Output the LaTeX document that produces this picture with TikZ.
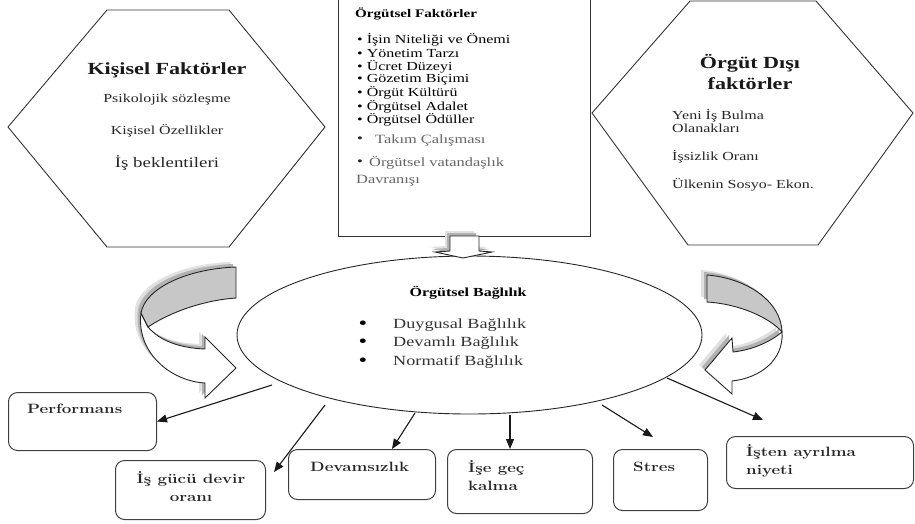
\documentclass[tikz,border=0pt]{standalone}
\usepackage{fontspec}
\setmainfont{Liberation Serif}[FakeStretch=1.3]
\newfontfamily\boxfont{Latin Modern Roman}[FakeStretch=1.25]
\usetikzlibrary{arrows.meta,calc,shapes.geometric}
\newcommand\LArrowGray[1]{\path[#1] (236,267) .. controls (185,269) and (145,289) .. (141,313) -- (148,327) .. controls (170,312) and (205,300) .. (236,298) -- cycle;}
\newcommand\LArrowWhite[1]{\path[#1] (141,313) .. controls (136,352) and (170,381) .. (205,383) -- (205,398) -- (236,368) -- (205,337) -- (205,349) .. controls (180,348) and (160,341) .. (148,327) -- cycle;}
\newcommand\RArrowGray[1]{\path[#1] (707,275) .. controls (745,278) and (781,300) .. (782,332) .. controls (770,318) and (740,304) .. (707,302) -- cycle;}
\newcommand\RArrowWhite[1]{\path[#1] (782,332) .. controls (784,360) and (760,378) .. (732,381) -- (732,394) -- (705,370) -- (732,338) -- (733,352) .. controls (752,350) and (770,342) .. (782,332) -- cycle;}
\newcommand\DArrow[1]{\path[#1] (450,236) -- (450,251) -- (435,252) -- (463,258) -- (492,252) -- (479,251) -- (479,236) -- cycle;}
\tikzset{
  shapeline/.style={draw=black!80, line width=0.9pt},
  outbox/.style={draw=black!75, line width=1pt, rounded corners=9pt, inner sep=0pt},
  conn/.style={draw=black!90, line width=1.1pt, -{Triangle[length=10pt,width=8pt]}},
  bx/.style={font=\boxfont\bfseries\fontsize{13.5}{18}\selectfont, inner sep=0pt, anchor=west, align=left, text=black!85},
  ttl/.style={font=\bfseries\fontsize{17}{20}\selectfont, inner sep=0pt, text=black!90},
  tn/.style={font=\fontsize{12.3}{14}\selectfont, inner sep=0pt, text=black!85},
  tw/.style={tn, anchor=west},
  tr/.style={tw, text=black},
  tg/.style={font=\fontsize{12.6}{14}\selectfont, inner sep=0pt, anchor=west, text=black!60},
  tl/.style={font=\fontsize{14}{16}\selectfont, inner sep=0pt, anchor=west, text=black!80},
  dot/.style={font=\fontsize{19}{16}\selectfont, inner sep=0pt, text=black},
  shA/.style={fill=black!12},
  shB/.style={fill=black!30},
}
\begin{document}
\begin{tikzpicture}[x=1pt,y=-1pt]
\useasboundingbox (0,0) rectangle (915,523);

% left hexagon
\draw[shapeline] (107,10) -- (229,10) -- (325,127) -- (229,247) -- (107,247) -- (8,127) -- cycle;
\node[ttl] (kf) at (167,70) {Kişisel Faktörler};
\node[tn] (kf1) at (167,100) {Psikolojik sözleşme};
\node[tn] (kf2) at (167,131) {Kişisel Özellikler};
\node[tn, font=\fontsize{14.5}{17}\selectfont] (kf3) at (167,163) {İş beklentileri};

% right hexagon
\draw[shapeline] (690,1) -- (816,1) -- (913,113) -- (818,245) -- (688,245) -- (592,113) -- cycle;
\node[ttl] (od1) at (750,63) {Örgüt Dışı};
\node[ttl] (od2) at (750,84) {faktörler};
\node[tw] (od3) at (672,116) {Yeni İş Bulma};
\node[tw] (od4) at (672,128) {Olanakları};
\node[tw] (od5) at (672,157) {İşsizlik Oranı};
\node[tw] (od6) at (672,185) {Ülkenin Sosyo- Ekon.};

% central rectangle
\node[draw=black!80, line width=1pt, fill=white, minimum width=252pt, minimum height=240pt, anchor=north west, inner sep=0pt] (rect) at (338,-4) {};
\node[tw, font=\bfseries\fontsize{11.6}{14}\selectfont, text=black] (of) at (355,14) {Örgütsel Faktörler};
\node[tr] (of1) at (357,40) {• İşin Niteliği ve Önemi};
\node[tr] (of2) at (357,53) {• Yönetim Tarzı};
\node[tr] (of3) at (357,67) {• Ücret Düzeyi};
\node[tr] (of4) at (357,80) {• Gözetim Biçimi};
\node[tr] (of5) at (357,93) {• Örgüt Kültürü};
\node[tr] (of6) at (357,107) {• Örgütsel Adalet};
\node[tr] (of7) at (357,120) {• Örgütsel Ödüller};
\node[tg, text=black!85] (b8) at (357,140) {•};
\node[tg] (of8) at (375,140) {Takım Çalışması};
\node[tg, text=black!85] (b9) at (357,163) {•};
\node[tg] (of9) at (369,163) {Örgütsel vatandaşlık};
\node[tg] (of10) at (356,181) {Davranışı};

% ellipse
\node[ellipse, draw=black!85, line width=0.9pt, minimum width=465pt, minimum height=158pt, inner sep=0pt] (ell) at (469.5,335) {};
\node[tn, font=\bfseries\fontsize{12.3}{14}\selectfont, text=black] (ob) at (468,293) {Örgütsel Bağlılık};
\node[dot] (d1) at (363,325) {•};
\node[dot] (d2) at (363,343) {•};
\node[dot] (d3) at (363,362) {•};
\node[tl] (ob1) at (393,325) {Duygusal Bağlılık};
\node[tl] (ob2) at (393,343) {Devamlı Bağlılık};
\node[tl] (ob3) at (393,362) {Normatif Bağlılık};

% down block arrow
\begin{scope}[shift={(-5,-5)}]\DArrow{shA}\end{scope}
\begin{scope}[shift={(-3,-3)}]\DArrow{shB}\end{scope}
\DArrow{fill=white, draw=black!85, line width=0.9pt}

% left curved arrow
\begin{scope}[shift={(-6,-5)}]\LArrowGray{shA}\LArrowWhite{shA}\end{scope}
\begin{scope}[shift={(-3,-3)}]\LArrowGray{shB}\LArrowWhite{shB}\end{scope}
\LArrowWhite{fill=white, draw=black!85, line width=0.9pt}
\LArrowGray{fill=black!22, draw=black!85, line width=0.9pt}

% right curved arrow
\begin{scope}[shift={(-6,-5)}]\RArrowGray{shA}\RArrowWhite{shA}\end{scope}
\begin{scope}[shift={(-3,-3)}]\RArrowGray{shB}\RArrowWhite{shB}\end{scope}
\RArrowWhite{fill=white, draw=black!85, line width=0.9pt}
\RArrowGray{fill=black!22, draw=black!85, line width=0.9pt}

% outcome boxes
\node[outbox, minimum width=148pt, minimum height=58pt, anchor=north west] (perf) at (8,392) {};
\node[bx] (tperf) at (27,409) {Performans};
\node[outbox, minimum width=150pt, minimum height=59pt, anchor=north west] (isg) at (115,460) {};
\node[bx, anchor=center, align=center] (tisg) at (191,487) {İş gücü devir\\oranı};
\node[outbox, minimum width=147pt, minimum height=50pt, anchor=north west] (dev) at (288,449) {};
\node[bx] (tdev) at (310,467) {Devamsızlık};
\node[outbox, minimum width=145pt, minimum height=64pt, anchor=north west] (ige) at (447,449) {};
\node[bx] (tige) at (468,476) {İşe geç\\kalma};
\node[outbox, minimum width=94pt, minimum height=61pt, anchor=north west] (str) at (613,449) {};
\node[bx] (tstr) at (633,467) {Stres};
\node[outbox, minimum width=187pt, minimum height=52pt, anchor=north west] (ist) at (726,436) {};
\node[bx] (tist) at (746,461) {İşten ayrılma\\niyeti};

% connectors
\coordinate (s1) at (272,385);
\coordinate (s2) at (325,405);
\coordinate (s3) at (415,413);
\coordinate (s4) at (510,415);
\coordinate (s5) at (602,405);
\coordinate (s6) at (667,378);
\draw[conn] (s1) -- (perf.east);
\draw[conn] (s2) -- ($(isg.north east)+(8,12)$);
\draw[conn] (s3) -- ($(dev.north west)+(104,0)$);
\draw[conn] (s4) -- ($(ige.north west)+(63,0)$);
\draw[conn] (s5) -- ($(str.north west)+(40,-12)$);
\draw[conn] (s6) -- ($(ist.north west)+(37,-16)$);
\end{tikzpicture}
\end{document}
